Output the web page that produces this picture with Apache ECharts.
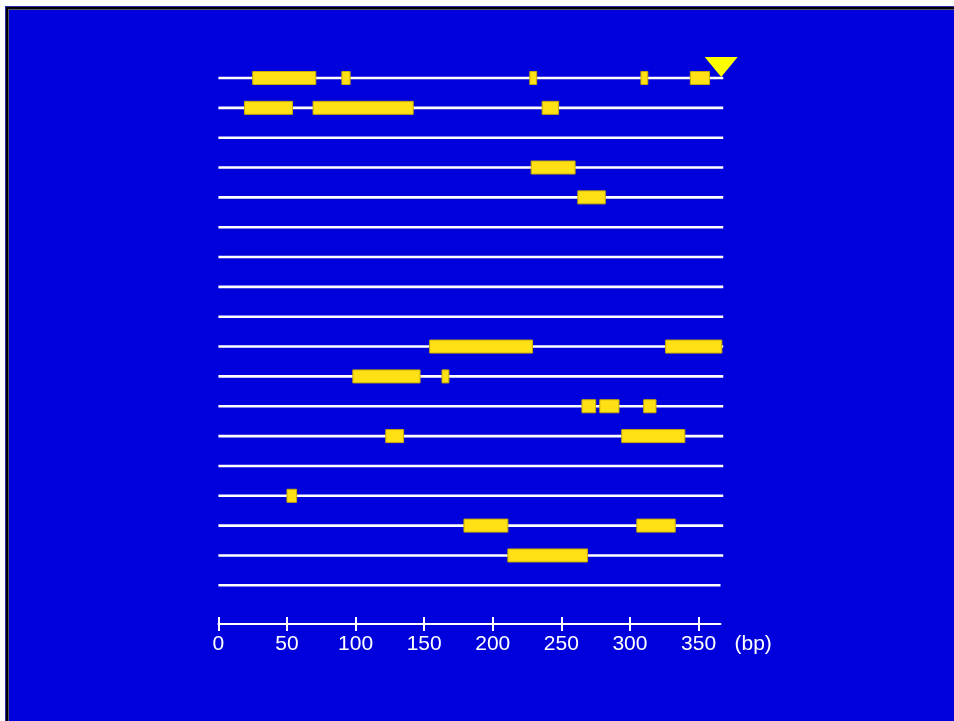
<!DOCTYPE html>
<html>
<head>
<meta charset="utf-8">
<script src="https://cdn.jsdelivr.net/npm/echarts@6/dist/echarts.min.js"></script>
<style>
html,body{margin:0;padding:0;background:#fff;width:954px;height:721px;overflow:hidden;}
.f{position:absolute;right:0;bottom:0;}
#chart{position:absolute;left:0;top:0;width:954px;height:721px;}
</style>
</head>
<body>
<div class="f" style="left:5px;top:6px;background:#2a2ab4"></div>
<div class="f" style="left:6px;top:7px;background:#000"></div>
<div class="f" style="left:8px;top:9px;background:#5a5a6a"></div>
<div class="f" style="left:9px;top:10px;background:#0000DC"></div>
<div id="chart"></div>
<script>
// ---- data ----
var rowLengths = [368, 368, 368, 368, 368, 368, 368, 368, 368, 368, 368, 368, 368, 368, 368, 368, 368, 366];
var barRow   = [0, 0, 0, 0, 0,   1, 1, 1,   3,   4,   9, 9,   10, 10,   11, 11, 11,   12, 12,   14,   15, 15,   16];
var barStart = [25, 90, 227, 308, 344,   19, 69, 236,   228,   262,   154, 326,   98, 163,   265, 278, 310,   122, 294,   50,   179, 305,   211];
var barEnd   = [71, 96, 232, 313, 358,   54, 142, 248,   260,   282,   229, 367,   147, 168,   275, 292, 319,   135, 340,   57,   211, 333,   269];
var markerRow = [0];
var markerPos = [366.5];
var tickLabels = [0, 50, 100, 150, 200, 250, 300, 350];
var axisMax = 366;

// ---- build ----
var lineData = rowLengths.map(function (len, i) { return [i, len]; });
var barData = barRow.map(function (r, i) { return [barStart[i], barEnd[i], r]; });
var markerData = markerRow.map(function (r, i) { return [markerPos[i], r]; });

var chart = echarts.init(document.getElementById('chart'), null, {renderer: 'canvas'});
var labelFont = {color: '#fff', fontSize: 21, fontFamily: 'Liberation Sans, Arial, sans-serif'};
var gridBox = {left: 218.4, top: 78, width: 502.1, height: 507.3};

var option = {
  backgroundColor: 'transparent',
  animation: false,
  grid: [Object.assign({}, gridBox), Object.assign({}, gridBox)],
  xAxis: [{
    gridIndex: 0, type: 'value', min: 0, max: axisMax, position: 'bottom', offset: 38.7,
    splitLine: {show: false},
    axisLine: {show: true, onZero: false, lineStyle: {color: '#fff', width: 2}},
    axisTick: {show: true, customValues: tickLabels, length: 7, inside: false, lineStyle: {color: '#fff', width: 2}},
    axisLabel: Object.assign({show: true, customValues: tickLabels, margin: 10,
      formatter: function (v) { return String(v); }}, labelFont),
    name: '(bp)', nameLocation: 'end', nameGap: 14,
    nameTextStyle: Object.assign({verticalAlign: 'top', padding: [10, 0, 0, 0]}, labelFont)
  }, {
    gridIndex: 1, type: 'value', min: 0, max: axisMax, position: 'bottom', offset: 38.7,
    splitLine: {show: false},
    axisLine: {show: false, onZero: false},
    axisTick: {show: true, customValues: tickLabels, length: 7, inside: true, lineStyle: {color: '#fff', width: 2}},
    axisLabel: {show: false}
  }],
  yAxis: [
    {gridIndex: 0, type: 'value', min: 0, max: 17, inverse: true, show: false},
    {gridIndex: 1, type: 'value', min: 0, max: 17, inverse: true, show: false}
  ],
  series: [{
    type: 'custom',
    clip: false,
    data: lineData,
    encode: {x: 1, y: 0},
    renderItem: function (params, api) {
      var r = api.value(0), len = api.value(1);
      var p0 = api.coord([0, r]), p1 = api.coord([len, r]);
      return {type: 'line', shape: {x1: p0[0], y1: p0[1], x2: p1[0], y2: p1[1]},
        style: {stroke: '#ffffff', lineWidth: 2.6}};
    },
    z: 2
  }, {
    type: 'custom',
    clip: false,
    data: barData,
    encode: {x: [0, 1], y: 2},
    renderItem: function (params, api) {
      var a = api.coord([api.value(0), api.value(2)]);
      var b = api.coord([api.value(1), api.value(2)]);
      var h = 13;
      return {type: 'rect', shape: {x: a[0], y: a[1] - h / 2, width: b[0] - a[0], height: h},
        style: {fill: '#FFE014', stroke: '#C8AC00', lineWidth: 1}};
    },
    z: 3
  }, {
    type: 'custom',
    clip: false,
    data: markerData,
    encode: {x: 0, y: 1},
    renderItem: function (params, api) {
      var p = api.coord([api.value(0), api.value(1)]);
      var w = 33, h = 21;
      return {type: 'polygon', shape: {points: [[p[0] - w / 2, p[1] - h], [p[0] + w / 2, p[1] - h], [p[0], p[1] - 1]]},
        style: {fill: '#FFFF00'}};
    },
    z: 4
  }]
};
chart.setOption(option);
</script>
</body>
</html>
